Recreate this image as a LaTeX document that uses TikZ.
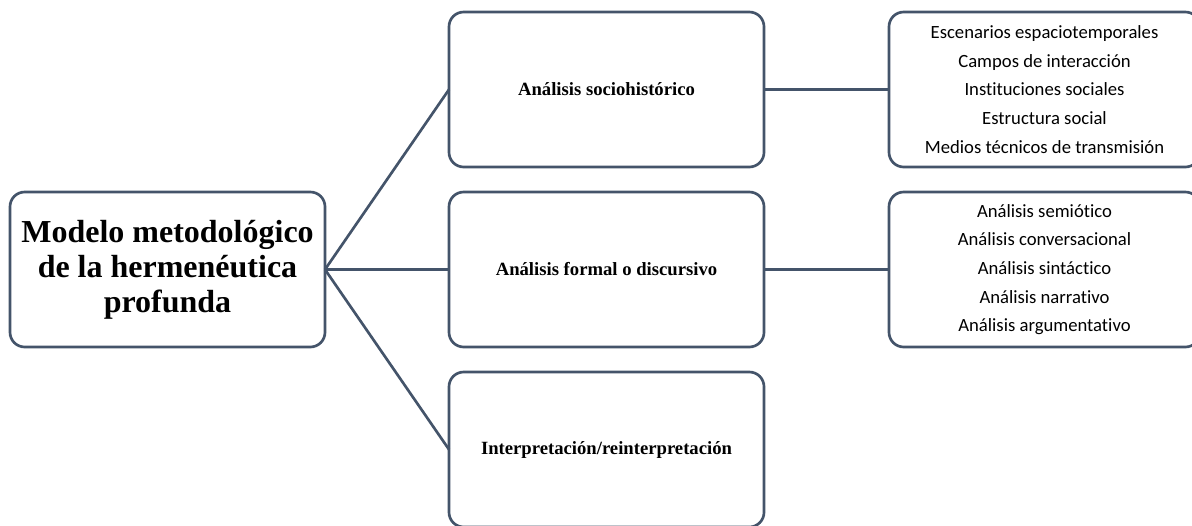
\documentclass[tikz,border=0pt]{standalone}
\usepackage{fontspec}
\setmainfont{Liberation Serif}
\newfontfamily\calib[Ligatures=NoCommon]{Carlito}
\definecolor{boxc}{HTML}{44546A}
\tikzset{
 box/.style={draw=boxc, line width=2pt, rounded corners=11pt, fill=white, inner sep=0pt, outer sep=0pt, minimum width=236.25pt, minimum height=116.25pt, align=center},
 mainbox/.style={box, font=\fontsize{24}{26.25}\selectfont\bfseries},
 midbox/.style={box, font=\fontsize{14}{16}\selectfont\bfseries},
 listbox/.style={box, minimum width=233.25pt, font=\fontsize{14}{21.5}\selectfont\calib},
 link/.style={draw=boxc, line width=2pt},
}
\begin{document}
\begin{tikzpicture}[x=0.75pt,y=-0.75pt]
\useasboundingbox (0,0) rectangle (1192,525);
\clip (0,0) rectangle (1192,525);
\node[mainbox] (main) at (167.5,269.5) {Modelo metodológico\\de la hermenéutica\\profunda};
\node[midbox] (socio) at (606.5,89.5) {Análisis sociohistórico};
\node[midbox] (formal) at (606.5,269.5) {Análisis formal o discursivo};
\node[midbox] (interp) at (606.5,449.5) {Interpretación/reinterpretación};
\node[listbox] (l1) at (1044.5,89.5) {Escenarios espaciotemporales\\Campos de interacción\\Instituciones sociales\\Estructura social\\Medios técnicos de transmisión};
\node[listbox] (l2) at (1044.5,269.5) {Análisis semiótico\\Análisis conversacional\\Análisis sintáctico\\Análisis narrativo\\Análisis argumentativo};
\draw[link] (main.east) -- (socio.west);
\draw[link] (main.east) -- (formal.west);
\draw[link] (main.east) -- (interp.west);
\draw[link] (socio.east) -- (l1.west);
\draw[link] (formal.east) -- (l2.west);
\end{tikzpicture}
\end{document}
